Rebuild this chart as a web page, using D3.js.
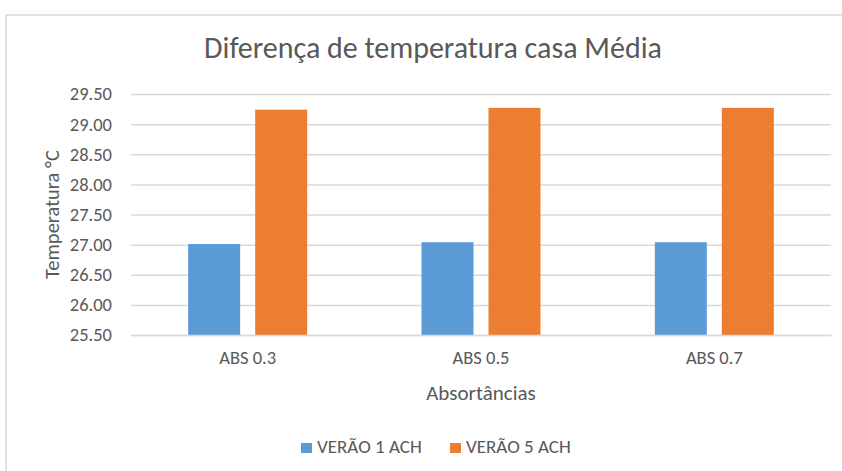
<!DOCTYPE html>
<html>
<head>
<meta charset="utf-8">
<script src="https://cdn.jsdelivr.net/npm/d3@7"></script>
<style>
  body { margin: 0; background: #fff; }
  svg text { font-family: Carlito, Calibri, "Open Sans", sans-serif; fill: #595959; }
</style>
</head>
<body>
<div id="chart"></div>
<script>
// dados
const categorias = ["ABS 0.3", "ABS 0.5", "ABS 0.7"];
const series = ["VERÃO 1 ACH", "VERÃO 5 ACH"];
const verao1 = [27.01, 27.04, 27.04];
const verao5 = [29.24, 29.27, 29.27];
const yTicks = [25.5, 26, 26.5, 27, 27.5, 28, 28.5, 29, 29.5];

const cores = d3.scaleOrdinal().domain(series).range(["#5B9BD5", "#ED7D31"]);

const W = 842, H = 471;
const margin = { TOP: 94, BOTTOM: 136, LEFT: 131, RIGHT: 11 };
const w = W - margin.LEFT - margin.RIGHT;
const h = H - margin.TOP - margin.BOTTOM;

const svg = d3.select("#chart").append("svg")
  .attr("width", W).attr("height", H);

// moldura
svg.append("path")
  .attr("d", `M6,${H} V15 H${W}`)
  .attr("fill", "none")
  .attr("stroke", "#d9d9d9")
  .attr("stroke-width", 1.5);

const g = svg.append("g")
  .attr("transform", `translate(${margin.LEFT}, ${margin.TOP})`);

const y = d3.scaleLinear().domain([25.5, 29.5]).range([h, 0]);
const x0 = d3.scaleBand().domain(categorias).range([0, w]);
const grupo = 119;
const x1 = d3.scaleBand().domain(series)
  .range([(x0.bandwidth() - grupo) / 2, (x0.bandwidth() + grupo) / 2])
  .paddingInner(0.224);

// eixo y + grelha
const yAxis = g.append("g")
  .call(d3.axisLeft(y).tickValues(yTicks).tickFormat(d3.format(".2f")).tickSize(-w).tickPadding(19));
yAxis.select(".domain").remove();
yAxis.selectAll("line").attr("stroke", "#d9d9d9").attr("stroke-width", 1.5);
yAxis.selectAll("text").style("font-size", "18.5px");

// barras
const linhas = categorias.map((c, i) => ({ cat: c, valores: [verao1[i], verao5[i]] }));

g.selectAll(".grupo")
  .data(linhas)
  .enter().append("g")
  .attr("class", "grupo")
  .attr("transform", d => `translate(${x0(d.cat)}, 0)`)
  .selectAll("rect")
  .data(d => d.valores.map((v, j) => ({ key: series[j], value: v })))
  .enter().append("rect")
  .attr("x", d => x1(d.key))
  .attr("y", d => y(d.value))
  .attr("width", x1.bandwidth())
  .attr("height", d => h - y(d.value))
  .attr("fill", d => cores(d.key));

// eixo x
const xAxis = g.append("g")
  .attr("transform", `translate(0, ${h})`)
  .call(d3.axisBottom(x0).tickSize(0).tickPadding(16));
xAxis.select(".domain").attr("stroke", "#d9d9d9").attr("stroke-width", 1.5);
xAxis.selectAll("text").style("font-size", "18.5px");

// títulos
svg.append("text")
  .attr("x", 433).attr("y", 58)
  .attr("text-anchor", "middle")
  .style("font-size", "30px")
  .text("Diferença de temperatura casa Média");

svg.append("text")
  .attr("transform", `translate(59, ${margin.TOP + h / 2}) rotate(-90)`)
  .attr("text-anchor", "middle")
  .style("font-size", "20.5px")
  .text("Temperatura °C");

svg.append("text")
  .attr("x", margin.LEFT + w / 2).attr("y", 400)
  .attr("text-anchor", "middle")
  .style("font-size", "21px")
  .text("Absortâncias");

// legenda
const legenda = svg.append("g").attr("transform", "translate(301, 443)");
const itens = legenda.selectAll(".item")
  .data(series)
  .enter().append("g")
  .attr("class", "item")
  .attr("transform", (d, i) => `translate(${i * 149}, 0)`);
itens.append("rect")
  .attr("width", 11).attr("height", 10)
  .attr("fill", d => cores(d));
itens.append("text")
  .attr("x", 16).attr("y", 10)
  .style("font-size", "19px")
  .text(d => d);
</script>
</body>
</html>
